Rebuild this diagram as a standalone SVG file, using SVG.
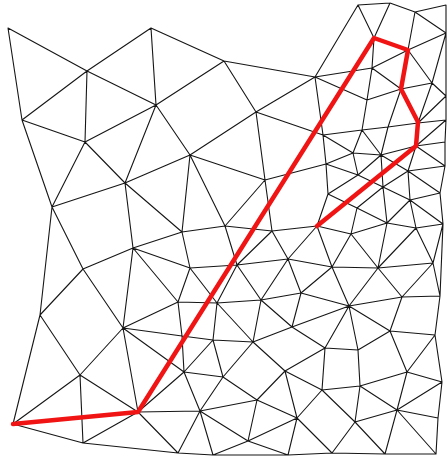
<svg xmlns="http://www.w3.org/2000/svg" width="447" height="457" viewBox="0 0 447 457">
<style>
.mesh{fill:none;stroke:#161616;stroke-width:1.1;stroke-linecap:round}
.route{fill:none;stroke:#f01414;stroke-width:4.5;stroke-linejoin:round;stroke-linecap:round}
</style>
<rect width="447" height="457" fill="#ffffff"/>
<g id="mesh">
<path class="mesh" d="M8 28L87 71M8 28L22 120M87 71L151 28M87 71L22 120M87 71L85 142M87 71L156 105M151 28L156 105M151 28L224 61M224 61L156 105M224 61L256 112M224 61L315 77M22 120L85 142M22 120L52 207M85 142L156 105M85 142L52 207M85 142L125 183M156 105L125 183M156 105L190 155M256 112L190 155M256 112L315 77M256 112L323 135M256 112L265 180
M52 207L125 183M52 207L83 269M52 207L40 315M125 183L133 248M125 183L190 155M125 183L182 232M133 248L83 269M133 248L182 232M133 248L190 268M133 248L178 302M133 248L123 328M83 269L40 315M83 269L123 328
M190 155L265 180M190 155L182 232M190 155L225 226M265 180L225 226M265 180L272 231M265 180L326 164M182 232L225 226M182 232L190 268M225 226L272 231M225 226L237 265M272 231L237 265M272 231L288 259M272 231L317 226M190 268L237 265M190 268L178 302M190 268L217 303M237 265L288 259M237 265L217 303M237 265L261 300M288 259L261 300M288 259L301 293M288 259L317 226M288 259L332 267
M178 302L217 303M178 302L123 328M178 302L182 336M217 303L261 300M217 303L213 340M217 303L253 342M261 300L253 342M261 300L292 327M261 300L301 293
M40 315L80 375M40 315L13 424M123 328L80 375M123 328L138 412M123 328L182 336M123 328L184 372M80 375L13 424M80 375L138 412M80 375L83 443M13 424L83 443M138 412L83 443M138 412L184 372M138 412L200 411M138 412L178 453M83 443L178 453
M182 336L213 340M182 336L184 372M213 340L253 342M213 340L184 372M213 340L223 377M253 342L223 377M253 342L292 327M253 342L285 371M184 372L223 377M184 372L200 411M223 377L200 411M223 377L257 400M200 411L257 400M200 411L248 441M200 411L178 453M200 411L213 455M257 400L248 441M257 400L285 371M257 400L297 418M248 441L297 418M248 441L213 455M248 441L288 455M178 453L213 455M213 455L288 455M288 455L297 418M288 455L332 453
M292 327L301 293M292 327L349 306M292 327L325 348M285 371L325 348M285 371L322 390M285 371L297 418M297 418L322 390M297 418L332 453M301 293L349 306M301 293L332 267
M349 306L390 331M349 306L325 348M349 306L358 350M349 306L402 297M349 306L332 267M349 306L378 268M390 331L402 297M390 331L435 335M390 331L358 350M390 331L407 372M435 335L407 372M435 335L440 296M435 335L442 382M325 348L358 350M325 348L322 390M358 350L360 386M407 372L442 382M407 372L360 386M407 372L397 410M442 382L397 410M442 382L438 418M322 390L360 386M322 390L355 422M360 386L397 410M360 386L355 422M397 410L438 418M397 410L355 422M397 410L385 454M397 410L436 454M438 418L436 454M355 422L332 453M355 422L385 454M332 453L385 454M385 454L436 454
M402 297L440 296M402 297L378 268M402 297L433 263M440 296L433 263M440 296L443 224M332 267L378 268M332 267L317 226M332 267L351 234M378 268L433 263M378 268L351 234M378 268L387 223M378 268L416 228M433 263L416 228M433 263L443 224
M317 226L351 234M317 226L328 194M351 234L387 223M351 234L357 208M387 223L416 228M387 223L410 200M387 223L357 208M387 223L383 187M416 228L443 224M416 228L410 200M443 224L410 200M443 224L440 193M410 200L440 193M410 200L383 187M410 200L408 171M440 193L408 171M440 193L445 166
M357 208L328 194M357 208L383 187M328 194L326 164M328 194L358 175M326 164L353 153M326 164L358 175M326 164L323 135M353 153L381 155M353 153L358 175M353 153L362 130M353 153L323 135M381 155L358 175M381 155L383 187M381 155L408 171M381 155L416 146M381 155L388 127M381 155L362 130M358 175L383 187M383 187L408 171M408 171L416 146M408 171L445 166M416 146L445 142M416 146L445 166M416 146L446 120
M418 123L388 127M418 123L432 83M418 123L446 96M418 123L446 120M388 127L362 130M388 127L401 89M362 130L323 135M362 130L367 100M323 135L315 77M367 100L401 89M367 100L372 68M367 100L315 77M401 89L432 83M401 89L372 68M432 83L408 50M432 83L446 33M432 83L446 96M372 68L315 77M372 68L374 38M372 68L408 50M315 77L358 5M374 38L358 5M374 38L390 3M408 50L415 12M408 50L446 33M358 5L390 3M390 3L415 12M415 12L446 5M415 12L446 33
M446 5L446 33L446 96L446 120L445 142L445 166"/>
</g>
<g id="connectors">
<polyline id="route" class="route" points="13,424 138,412 374,38 408,50 401,89 418,122 416,146 317,226"/>
</g>
</svg>
